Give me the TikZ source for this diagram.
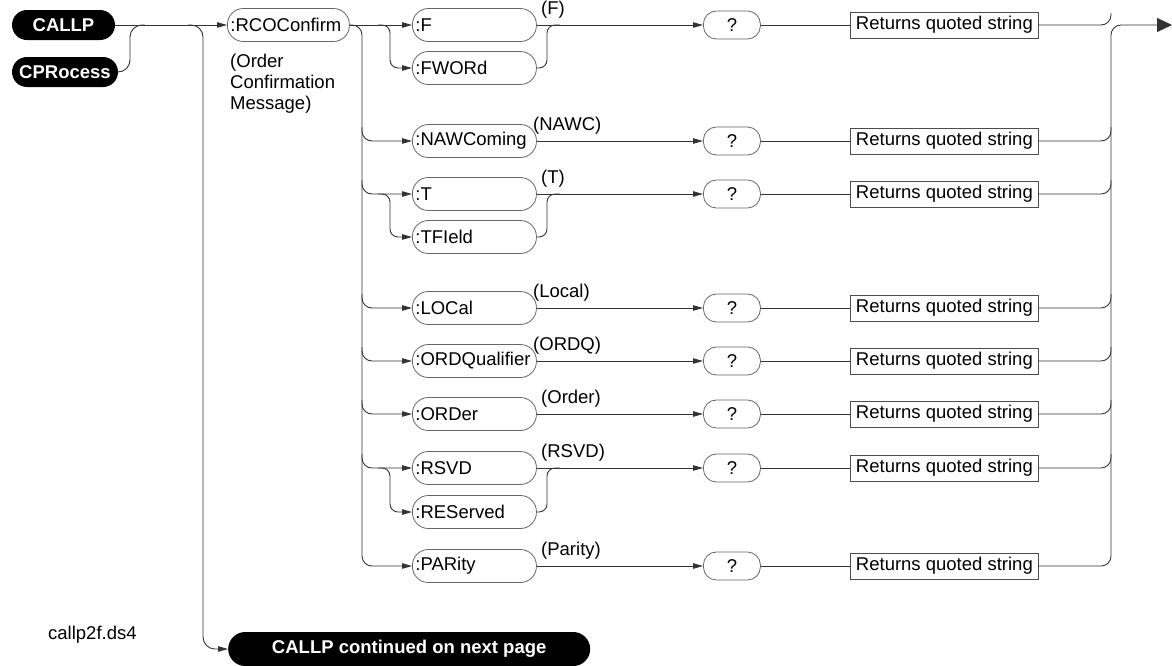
\documentclass[tikz,border=0pt]{standalone}
\usepackage{fontspec}
\setmainfont{Liberation Sans}
\usetikzlibrary{arrows.meta}
\begin{document}
\begin{tikzpicture}[x=1pt,y=-1pt,
  font=\fontsize{18.5}{21}\selectfont,
  conn/.style={draw=black!80, line width=0.9pt},
  arr/.style={conn,-{Triangle[length=10pt,width=5.5pt]}},
  kw/.style={draw=black!60, line width=0.8pt, rounded corners=16pt,
    minimum height=33pt, text width=118pt, inner xsep=3pt, inner ysep=0pt,
    align=left, anchor=west},
  root/.style={fill=black, text=white, font=\fontsize{18.5}{21}\selectfont\bfseries,
    rounded corners=15pt, minimum height=30pt, inner xsep=5pt, inner ysep=0pt},
  query/.style={draw=black!60, line width=0.8pt, rounded corners=13pt,
    minimum width=57pt, minimum height=28pt, inner sep=0pt, anchor=west},
  retbox/.style={draw=black!70, line width=0.8pt, minimum width=188pt,
    minimum height=26pt, inner sep=0pt, anchor=west},
  abbr/.style={anchor=south west, inner sep=0pt},
  plain/.style={inner sep=0pt}
]
\useasboundingbox (0,0) rectangle (1172,665);

% entry keywords
\node[root, minimum width=103pt] (callp) at (63.5,25) {CALLP};
\node[root, minimum width=106pt] (cpr) at (65,72) {CPRocess};
\node[kw, text width=116pt] (rco) at (227,25) {:RCOConfirm};
\node[plain, anchor=north west, align=left] (rcotxt) at (230,54)
  {(Order\\Confirmation\\Message)};
\node[plain, anchor=west] (fname) at (48,635) {callp2f.ds4};
\node[root, rounded corners=17pt, minimum height=34pt, minimum width=362pt]
  (cont) at (228,649) [anchor=west] {CALLP continued on next page};

% option keywords
\node[kw] (kF)   at (412,25)  {:F};
\node[kw] (kFW)  at (412,68)  {:FWORd};
\node[kw] (kNAW) at (412,141) {:NAWComing};
\node[kw] (kT)   at (412,194) {:T};
\node[kw] (kTF)  at (412,237) {:TFIeld};
\node[kw] (kLOC) at (412,308) {:LOCal};
\node[kw] (kOQ)  at (412,361) {:ORDQualifier};
\node[kw] (kORD) at (412,414) {:ORDer};
\node[kw] (kRS)  at (412,468) {:RSVD};
\node[kw] (kRES) at (412,512) {:REServed};
\node[kw] (kPAR) at (412,566) {:PARity};

% short forms
\node[abbr] (aF)   at (541,19)  {(F)};
\node[abbr] (aNAW) at (533,135) {(NAWC)};
\node[abbr] (aT)   at (541,188) {(T)};
\node[abbr] (aLOC) at (533,302) {(Local)};
\node[abbr] (aOQ)  at (533,355) {(ORDQ)};
\node[abbr] (aORD) at (541,408) {(Order)};
\node[abbr] (aRS)  at (541,462) {(RSVD)};
\node[abbr] (aPAR) at (541,560) {(Parity)};

% query marks and results
\foreach \n/\y in {1/25,2/141,3/194,4/308,5/361,6/414,7/468,8/566}{
  \node[query] (q\n) at (703,\y) {?};
  \node[retbox] (r\n) at (850,\y) {Returns quoted string};
}

% entry connectors
\draw[arr] (callp.east) -- (rco.west);
\draw[conn, rounded corners=12pt] (cpr.east) -| (130,25) -- (145,25);
\coordinate (byp) at (188,25);
\draw[arr, rounded corners=12pt] (byp) -| (203,649) -- (cont.west);

% branch rail
\coordinate (rail) at (350,25);
\draw[arr] (rco.east) -- (kF.west);
\draw[arr, rounded corners=10pt] (rail) -| (362,566) -- (kPAR.west);
\foreach \k/\y in {kNAW/141,kT/194,kLOC/308,kOQ/361,kORD/414,kRS/468}{
  \draw[arr, rounded corners=10pt] (362,\y-14) |- (\k.west);
}

% forks for paired forms
\foreach \a/\b/\ya/\yb in {kF/kFW/25/68, kT/kTF/194/237, kRS/kRES/468/512}{
  \draw[arr, rounded corners=8pt] (378,\ya) -| (390,\yb) -- (\b.west);
  \draw[conn, rounded corners=8pt] (\b.east) -| (547,\ya) -- (560,\ya);
}

% rows to query and result
\foreach \k/\n in {kF/1,kNAW/2,kT/3,kLOC/4,kOQ/5,kORD/6,kRS/7,kPAR/8}{
  \draw[arr] (\k.east) -- (q\n.west);
  \draw[conn] (q\n.east) -- (r\n.west);
}

% collecting rail and exit
\draw[conn, rounded corners=10pt] (r1.east) -| (1111,13);
\foreach \n/\y in {2/141,3/194,4/308,5/361,6/414,7/468}{
  \draw[conn, rounded corners=10pt] (r\n.east) -| (1111,\y-14);
}
\coordinate (exit) at (1172,25);
\draw[conn, rounded corners=10pt, -{Triangle[length=15pt,width=14pt]}]
  (r8.east) -| (1111,25) -- (exit);
\end{tikzpicture}
\end{document}
